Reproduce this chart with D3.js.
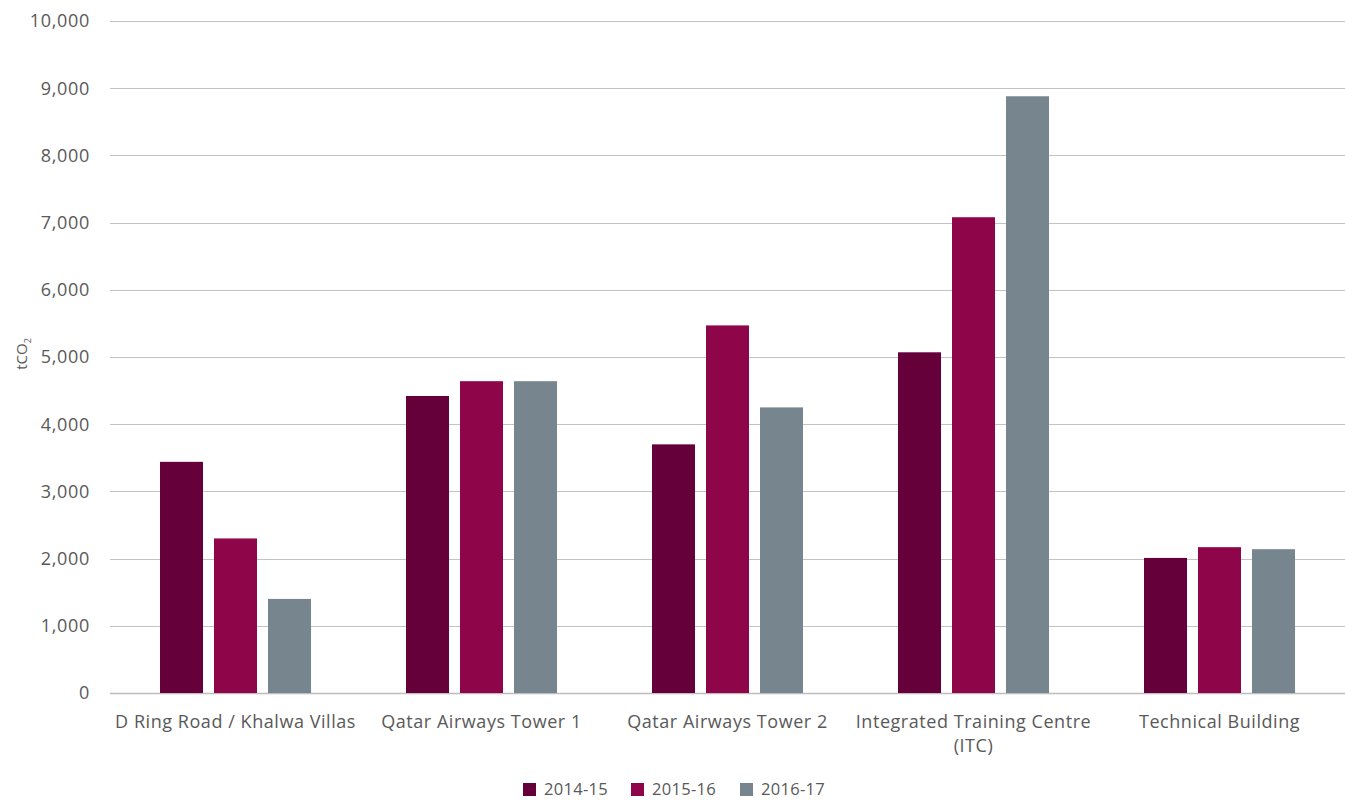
<!DOCTYPE html>
<html>
<head>
<meta charset="utf-8">
<script src="https://cdn.jsdelivr.net/npm/d3@7"></script>
<style>
  html, body { margin: 0; padding: 0; background: #fff; }
  svg { display: block; font-family: "Open Sans", "Lato", sans-serif; }
</style>
</head>
<body>
<svg id="chart" width="1345" height="800"></svg>
<script>
// Buildings (line breaks split with "\n")
const categories = [
  "D Ring Road / Khalwa Villas",
  "Qatar Airways Tower 1",
  "Qatar Airways Tower 2",
  "Integrated Training Centre\n(ITC)",
  "Technical Building"
];
const seriesNames = ["2014-15", "2015-16", "2016-17"];
const values2014 = [3440, 4420, 3700, 5070, 2010];
const values2015 = [2300, 4640, 5470, 7080, 2170];
const values2016 = [1400, 4640, 4250, 8880, 2140];
const yTicks = [0, 1000, 2000, 3000, 4000, 5000, 6000, 7000, 8000, 9000, 10000];
const colors = ["#65003a", "#8e0649", "#77858f"];

const series = [values2014, values2015, values2016];

const svg = d3.select("#chart");
const W = 1345, H = 800;
const plotLeft = 110, plotRight = 1340, plotTop = 21, plotBottom = 693;

const x = d3.scaleBand()
  .domain(categories)
  .range([plotLeft, plotRight])
  .paddingInner(0).paddingOuter(0);

const y = d3.scaleLinear()
  .domain([0, 10000])
  .range([plotBottom, plotTop]);

const barW = 43, barGap = 11;
const groupW = barW * 3 + barGap * 2;
const xs = d3.scaleBand()
  .domain(seriesNames)
  .range([0, groupW])
  .paddingInner(barGap / (barW + barGap))
  .paddingOuter(0);

// Gridlines
svg.append("g")
  .selectAll("line")
  .data(yTicks)
  .join("line")
  .attr("x1", plotLeft)
  .attr("x2", W)
  .attr("y1", d => Math.round(y(d)) + 0.5)
  .attr("y2", d => Math.round(y(d)) + 0.5)
  .attr("stroke", d => d === 0 ? "#bdbdbd" : "#c3c3c3")
  .attr("stroke-width", d => d === 0 ? 1.5 : 1.2);

// Y axis labels
const fmt = d3.format(",");
svg.append("g")
  .selectAll("text")
  .data(yTicks)
  .join("text")
  .attr("x", 90)
  .attr("y", d => y(d))
  .attr("dy", "0.35em")
  .attr("text-anchor", "end")
  .attr("fill", "#595959")
  .attr("font-size", 18)
  .attr("letter-spacing", 0.7)
  .text(d => fmt(d));

// Y axis title tCO2
const yt = svg.append("text")
  .attr("transform", "translate(27,354) rotate(-90)")
  .attr("text-anchor", "middle")
  .attr("fill", "#595959")
  .attr("font-size", 15);
yt.append("tspan").text("tCO");
yt.append("tspan").attr("font-size", 9).attr("dy", 4).text("2");

// Bars
const groupOffset = (x.bandwidth() - groupW) / 2 + 2.5;
const groups = svg.append("g")
  .selectAll("g")
  .data(categories)
  .join("g")
  .attr("transform", d => `translate(${x(d) + groupOffset},0)`);

groups.selectAll("rect")
  .data((d, i) => seriesNames.map((s, j) => ({ s, v: series[j][i], j })))
  .join("rect")
  .attr("x", d => xs(d.s))
  .attr("width", xs.bandwidth())
  .attr("y", d => y(d.v))
  .attr("height", d => y(0) - y(d.v))
  .attr("fill", d => colors[d.j]);

// X category labels
const labelX = d => x(d) + x.bandwidth() / 2 + 2.5;
svg.append("g")
  .selectAll("text")
  .data(categories)
  .join("text")
  .attr("x", labelX)
  .attr("y", 728)
  .attr("text-anchor", "middle")
  .attr("fill", "#595959")
  .attr("font-size", 18)
  .attr("letter-spacing", 0.55)
  .each(function(d) {
    d.split("\n").forEach((line, i) => {
      d3.select(this).append("tspan")
        .attr("x", labelX(d))
        .attr("dy", i === 0 ? 0 : 24)
        .text(line);
    });
  });

// Legend
const legendX = [523, 631, 740];
const legend = svg.append("g")
  .selectAll("g")
  .data(seriesNames)
  .join("g")
  .attr("transform", (d, i) => `translate(${legendX[i]},783)`);
legend.append("rect")
  .attr("width", 13).attr("height", 13)
  .attr("fill", (d, i) => colors[i]);
legend.append("text")
  .attr("x", 21)
  .attr("y", 12)
  .attr("fill", "#595959")
  .attr("font-size", 16.5)
  .attr("letter-spacing", 0.3)
  .text(d => d);
</script>
</body>
</html>
